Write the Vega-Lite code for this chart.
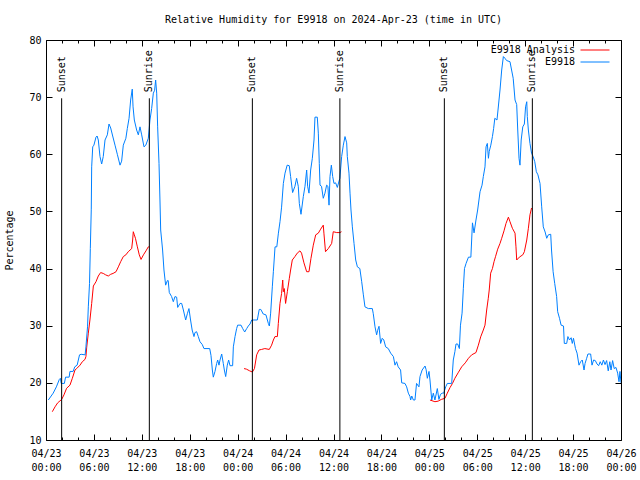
{
  "$schema": "https://vega.github.io/schema/vega-lite/v6.json",
  "width": 575,
  "height": 400,
  "autosize": {"type": "none"},
  "padding": {"left": 46, "top": 40, "right": 19, "bottom": 40},
  "background": "white",
  "title": {"text": "Relative Humidity for E9918 on 2024-Apr-23 (time in UTC)", "font": "DejaVu Sans Mono", "fontSize": 10, "fontWeight": "normal", "color": "black", "anchor": "middle", "offset": 10},
  "config": {"view": {"stroke": "black", "strokeWidth": 1}},
  "datasets": {
    "analysis": [
      {"seg":"1","hour":0.79,"rh":14.95},{"seg":"1","hour":1.13,"rh":15.8},{"seg":"1","hour":1.46,"rh":16.5},{"seg":"1","hour":1.96,"rh":17.1},{"seg":"1","hour":2.25,"rh":17.9},{"seg":"1","hour":2.58,"rh":19.05},{"seg":"1","hour":3.0,"rh":19.6},{"seg":"1","hour":3.3,"rh":20.8},{"seg":"1","hour":3.63,"rh":22.25},{"seg":"1","hour":3.84,"rh":22.5},{"seg":"1","hour":4.26,"rh":23.1},{"seg":"1","hour":4.55,"rh":23.7},{"seg":"1","hour":4.88,"rh":24.1},{"seg":"1","hour":5.0,"rh":24.6},{"seg":"1","hour":5.1,"rh":26.25},{"seg":"1","hour":5.3,"rh":28.7},{"seg":"1","hour":5.5,"rh":31.0},{"seg":"1","hour":5.72,"rh":33.9},{"seg":"1","hour":5.93,"rh":36.95},{"seg":"1","hour":6.26,"rh":37.7},{"seg":"1","hour":6.55,"rh":38.7},{"seg":"1","hour":6.84,"rh":39.3},{"seg":"1","hour":7.17,"rh":39.15},{"seg":"1","hour":7.47,"rh":38.9},{"seg":"1","hour":7.8,"rh":38.7},{"seg":"1","hour":8.1,"rh":39.0},{"seg":"1","hour":8.4,"rh":39.15},{"seg":"1","hour":8.77,"rh":39.45},{"seg":"1","hour":9.06,"rh":40.3},{"seg":"1","hour":9.35,"rh":41.2},{"seg":"1","hour":9.68,"rh":42.1},{"seg":"1","hour":10.0,"rh":42.4},{"seg":"1","hour":10.3,"rh":42.95},{"seg":"1","hour":10.73,"rh":43.5},{"seg":"1","hour":10.85,"rh":45.0},{"seg":"1","hour":10.93,"rh":46.45},{"seg":"1","hour":11.06,"rh":45.9},{"seg":"1","hour":11.2,"rh":45.3},{"seg":"1","hour":11.44,"rh":43.8},{"seg":"1","hour":11.68,"rh":42.4},{"seg":"1","hour":11.9,"rh":41.6},{"seg":"1","hour":12.2,"rh":42.4},{"seg":"1","hour":12.52,"rh":43.1},{"seg":"1","hour":12.81,"rh":43.8},{"seg":"1","hour":12.94,"rh":43.8},
      {"seg":"2","hour":24.8,"rh":22.5},{"seg":"2","hour":25.1,"rh":22.4},{"seg":"2","hour":25.5,"rh":22.1},{"seg":"2","hour":25.84,"rh":21.9},{"seg":"2","hour":26.1,"rh":22.5},{"seg":"2","hour":26.38,"rh":24.9},{"seg":"2","hour":26.67,"rh":25.75},{"seg":"2","hour":27.0,"rh":25.85},{"seg":"2","hour":27.4,"rh":26.0},{"seg":"2","hour":27.96,"rh":25.85},{"seg":"2","hour":28.25,"rh":26.6},{"seg":"2","hour":28.47,"rh":27.5},{"seg":"2","hour":28.67,"rh":28.1},{"seg":"2","hour":28.97,"rh":28.1},{"seg":"2","hour":29.09,"rh":30.4},{"seg":"2","hour":29.3,"rh":33.9},{"seg":"2","hour":29.5,"rh":35.65},{"seg":"2","hour":29.64,"rh":38.0},{"seg":"2","hour":29.72,"rh":35.95},{"seg":"2","hour":29.84,"rh":36.5},{"seg":"2","hour":30.0,"rh":33.9},{"seg":"2","hour":30.22,"rh":35.95},{"seg":"2","hour":30.47,"rh":38.3},{"seg":"2","hour":30.63,"rh":39.75},{"seg":"2","hour":30.84,"rh":41.5},{"seg":"2","hour":31.17,"rh":42.1},{"seg":"2","hour":31.46,"rh":42.7},{"seg":"2","hour":31.8,"rh":43.1},{"seg":"2","hour":32.0,"rh":42.7},{"seg":"2","hour":32.3,"rh":41.0},{"seg":"2","hour":32.64,"rh":39.45},{"seg":"2","hour":32.93,"rh":39.45},{"seg":"2","hour":33.18,"rh":41.8},{"seg":"2","hour":33.47,"rh":44.1},{"seg":"2","hour":33.77,"rh":45.9},{"seg":"2","hour":34.1,"rh":46.2},{"seg":"2","hour":34.39,"rh":46.9},{"seg":"2","hour":34.72,"rh":47.6},{"seg":"2","hour":34.8,"rh":46.2},{"seg":"2","hour":35.0,"rh":42.95},{"seg":"2","hour":35.35,"rh":43.5},{"seg":"2","hour":35.77,"rh":44.4},{"seg":"2","hour":35.97,"rh":46.45},{"seg":"2","hour":36.4,"rh":46.3},{"seg":"2","hour":36.8,"rh":46.3},{"seg":"2","hour":37.0,"rh":46.45},
      {"seg":"3","hour":48.08,"rh":17.0},{"seg":"3","hour":48.7,"rh":16.7},{"seg":"3","hour":49.1,"rh":16.8},{"seg":"3","hour":49.5,"rh":17.1},{"seg":"3","hour":49.96,"rh":17.3},{"seg":"3","hour":50.25,"rh":18.2},{"seg":"3","hour":50.6,"rh":19.2},{"seg":"3","hour":50.9,"rh":19.9},{"seg":"3","hour":51.2,"rh":20.8},{"seg":"3","hour":51.6,"rh":21.75},{"seg":"3","hour":52.05,"rh":22.8},{"seg":"3","hour":52.5,"rh":23.5},{"seg":"3","hour":52.9,"rh":24.3},{"seg":"3","hour":53.3,"rh":24.9},{"seg":"3","hour":53.84,"rh":25.3},{"seg":"3","hour":54.14,"rh":26.6},{"seg":"3","hour":54.43,"rh":28.05},{"seg":"3","hour":54.76,"rh":29.25},{"seg":"3","hour":54.97,"rh":30.1},{"seg":"3","hour":55.18,"rh":32.75},{"seg":"3","hour":55.38,"rh":34.8},{"seg":"3","hour":55.5,"rh":36.25},{"seg":"3","hour":55.68,"rh":39.2},{"seg":"3","hour":55.9,"rh":40.0},{"seg":"3","hour":56.1,"rh":41.2},{"seg":"3","hour":56.3,"rh":42.15},{"seg":"3","hour":56.56,"rh":43.4},{"seg":"3","hour":56.85,"rh":44.4},{"seg":"3","hour":57.06,"rh":45.3},{"seg":"3","hour":57.35,"rh":46.6},{"seg":"3","hour":57.6,"rh":47.9},{"seg":"3","hour":57.9,"rh":49.0},{"seg":"3","hour":58.1,"rh":48.2},{"seg":"3","hour":58.4,"rh":47.05},{"seg":"3","hour":58.73,"rh":46.2},{"seg":"3","hour":58.85,"rh":43.8},{"seg":"3","hour":58.94,"rh":41.5},{"seg":"3","hour":59.27,"rh":42.0},{"seg":"3","hour":59.7,"rh":42.4},{"seg":"3","hour":59.9,"rh":42.95},{"seg":"3","hour":60.2,"rh":45.0},{"seg":"3","hour":60.4,"rh":47.05},{"seg":"3","hour":60.6,"rh":49.4},{"seg":"3","hour":60.8,"rh":50.6}
    ],
    "obs": [
      {"hour":0.29,"rh":17.0},{"hour":0.9,"rh":18.2},{"hour":1.3,"rh":19.3},{"hour":1.67,"rh":20.6},{"hour":1.8,"rh":20.8},{"hour":1.9,"rh":19.9},{"hour":2.3,"rh":19.9},{"hour":2.45,"rh":21.0},{"hour":2.9,"rh":21.0},{"hour":3.0,"rh":22.0},{"hour":3.4,"rh":22.0},{"hour":3.6,"rh":22.8},{"hour":3.9,"rh":23.1},{"hour":4.2,"rh":24.9},{"hour":4.4,"rh":25.0},{"hour":4.9,"rh":24.9},{"hour":5.0,"rh":26.3},{"hour":5.2,"rh":29.8},{"hour":5.3,"rh":33.3},{"hour":5.45,"rh":37.4},{"hour":5.55,"rh":43.5},{"hour":5.67,"rh":50.4},{"hour":5.72,"rh":57.8},{"hour":5.85,"rh":61.3},{"hour":6.0,"rh":61.6},{"hour":6.26,"rh":63.0},{"hour":6.4,"rh":63.2},{"hour":6.55,"rh":62.5},{"hour":6.76,"rh":59.6},{"hour":6.97,"rh":58.3},{"hour":7.17,"rh":59.6},{"hour":7.39,"rh":62.5},{"hour":7.68,"rh":63.4},{"hour":7.89,"rh":65.3},{"hour":8.1,"rh":64.6},{"hour":8.35,"rh":63.2},{"hour":8.64,"rh":61.6},{"hour":8.93,"rh":60.0},{"hour":9.27,"rh":58.1},{"hour":9.47,"rh":58.8},{"hour":9.68,"rh":61.6},{"hour":10.0,"rh":62.8},{"hour":10.18,"rh":64.5},{"hour":10.4,"rh":66.3},{"hour":10.6,"rh":69.5},{"hour":10.8,"rh":71.4},{"hour":10.9,"rh":68.3},{"hour":11.06,"rh":66.0},{"hour":11.35,"rh":64.25},{"hour":11.56,"rh":63.4},{"hour":11.77,"rh":64.8},{"hour":11.98,"rh":63.4},{"hour":12.27,"rh":61.3},{"hour":12.5,"rh":61.6},{"hour":12.81,"rh":62.8},{"hour":13.02,"rh":66.0},{"hour":13.23,"rh":68.0},{"hour":13.44,"rh":70.7},{"hour":13.6,"rh":71.2},{"hour":13.73,"rh":73.0},{"hour":13.86,"rh":70.7},{"hour":13.98,"rh":64.8},{"hour":14.15,"rh":58.4},{"hour":14.27,"rh":52.0},{"hour":14.36,"rh":46.75},{"hour":14.6,"rh":43.25},{"hour":14.77,"rh":39.75},{"hour":14.98,"rh":37.1},{"hour":15.2,"rh":37.9},{"hour":15.3,"rh":37.9},{"hour":15.44,"rh":35.8},{"hour":15.73,"rh":35.1},{"hour":15.94,"rh":34.2},{"hour":16.15,"rh":35.1},{"hour":16.36,"rh":35.0},{"hour":16.49,"rh":33.2},{"hour":16.78,"rh":33.9},{"hour":16.99,"rh":33.9},{"hour":17.2,"rh":32.75},{"hour":17.49,"rh":31.0},{"hour":17.7,"rh":32.1},{"hour":17.9,"rh":33.0},{"hour":18.1,"rh":31.0},{"hour":18.3,"rh":29.25},{"hour":18.53,"rh":28.1},{"hour":18.65,"rh":28.8},{"hour":18.86,"rh":28.95},{"hour":19.07,"rh":28.1},{"hour":19.28,"rh":27.2},{"hour":19.57,"rh":26.7},{"hour":19.78,"rh":26.0},{"hour":20.5,"rh":26.0},{"hour":20.66,"rh":24.8},{"hour":20.83,"rh":22.25},{"hour":20.95,"rh":21.0},{"hour":21.16,"rh":22.0},{"hour":21.37,"rh":23.4},{"hour":21.5,"rh":24.0},{"hour":21.66,"rh":23.1},{"hour":21.79,"rh":24.0},{"hour":22.0,"rh":25.05},{"hour":22.2,"rh":23.4},{"hour":22.33,"rh":22.25},{"hour":22.5,"rh":21.1},{"hour":22.7,"rh":23.1},{"hour":22.87,"rh":24.0},{"hour":23.04,"rh":23.0},{"hour":23.37,"rh":23.0},{"hour":23.46,"rh":26.3},{"hour":23.67,"rh":28.1},{"hour":23.87,"rh":29.5},{"hour":24.0,"rh":30.1},{"hour":24.42,"rh":30.1},{"hour":24.63,"rh":29.5},{"hour":24.88,"rh":28.9},{"hour":25.13,"rh":29.5},{"hour":25.33,"rh":29.95},{"hour":25.55,"rh":30.3},{"hour":25.76,"rh":31.0},{"hour":26.46,"rh":31.0},{"hour":26.7,"rh":32.85},{"hour":26.9,"rh":32.85},{"hour":27.2,"rh":32.05},{"hour":27.54,"rh":31.9},{"hour":27.84,"rh":30.4},{"hour":27.97,"rh":29.95},{"hour":28.13,"rh":32.2},{"hour":28.34,"rh":36.8},{"hour":28.47,"rh":39.45},{"hour":28.68,"rh":43.8},{"hour":28.9,"rh":43.8},{"hour":29.1,"rh":46.2},{"hour":29.3,"rh":48.2},{"hour":29.5,"rh":50.75},{"hour":29.72,"rh":54.9},{"hour":29.93,"rh":56.7},{"hour":30.2,"rh":58.1},{"hour":30.46,"rh":58.0},{"hour":30.63,"rh":56.1},{"hour":30.88,"rh":53.3},{"hour":31.17,"rh":54.4},{"hour":31.38,"rh":55.8},{"hour":31.59,"rh":54.4},{"hour":31.72,"rh":51.4},{"hour":31.93,"rh":49.5},{"hour":32.22,"rh":52.6},{"hour":32.43,"rh":54.4},{"hour":32.64,"rh":57.25},{"hour":32.76,"rh":54.4},{"hour":32.93,"rh":53.2},{"hour":33.14,"rh":57.25},{"hour":33.35,"rh":59.3},{"hour":33.56,"rh":62.5},{"hour":33.68,"rh":66.5},{"hour":33.97,"rh":66.5},{"hour":34.1,"rh":63.7},{"hour":34.22,"rh":58.4},{"hour":34.31,"rh":54.6},{"hour":34.5,"rh":54.4},{"hour":34.72,"rh":52.3},{"hour":34.93,"rh":53.2},{"hour":35.14,"rh":54.6},{"hour":35.3,"rh":54.4},{"hour":35.44,"rh":51.1},{"hour":35.56,"rh":56.1},{"hour":35.73,"rh":58.1},{"hour":35.9,"rh":56.1},{"hour":36.06,"rh":54.9},{"hour":36.27,"rh":55.0},{"hour":36.48,"rh":54.2},{"hour":36.73,"rh":55.5},{"hour":36.8,"rh":55.8},{"hour":37.02,"rh":59.6},{"hour":37.23,"rh":61.6},{"hour":37.44,"rh":63.1},{"hour":37.65,"rh":62.0},{"hour":37.73,"rh":59.6},{"hour":37.94,"rh":56.7},{"hour":38.07,"rh":53.2},{"hour":38.19,"rh":50.25},{"hour":38.36,"rh":47.3},{"hour":38.57,"rh":44.4},{"hour":38.78,"rh":41.5},{"hour":38.99,"rh":40.3},{"hour":39.3,"rh":40.0},{"hour":39.53,"rh":37.7},{"hour":39.74,"rh":35.4},{"hour":39.94,"rh":33.3},{"hour":40.36,"rh":33.0},{"hour":40.86,"rh":33.0},{"hour":40.98,"rh":32.1},{"hour":41.2,"rh":29.8},{"hour":41.4,"rh":28.4},{"hour":41.53,"rh":29.2},{"hour":41.7,"rh":29.9},{"hour":41.9,"rh":26.9},{"hour":42.1,"rh":27.8},{"hour":42.3,"rh":27.5},{"hour":42.53,"rh":26.3},{"hour":42.86,"rh":26.0},{"hour":43.16,"rh":25.2},{"hour":43.5,"rh":24.6},{"hour":43.7,"rh":23.1},{"hour":43.9,"rh":23.7},{"hour":44.1,"rh":22.8},{"hour":44.4,"rh":22.25},{"hour":44.54,"rh":20.0},{"hour":44.95,"rh":19.9},{"hour":45.16,"rh":19.3},{"hour":45.37,"rh":18.2},{"hour":45.58,"rh":17.6},{"hour":45.66,"rh":17.0},{"hour":45.8,"rh":17.7},{"hour":46.0,"rh":17.0},{"hour":46.2,"rh":17.0},{"hour":46.4,"rh":19.9},{"hour":46.7,"rh":19.3},{"hour":46.83,"rh":21.1},{"hour":47.1,"rh":22.25},{"hour":47.46,"rh":22.95},{"hour":47.6,"rh":22.3},{"hour":47.75,"rh":20.8},{"hour":47.96,"rh":22.0},{"hour":48.08,"rh":20.5},{"hour":48.3,"rh":17.0},{"hour":48.5,"rh":18.2},{"hour":48.7,"rh":17.0},{"hour":49.0,"rh":19.0},{"hour":49.2,"rh":17.1},{"hour":49.4,"rh":18.0},{"hour":49.62,"rh":18.2},{"hour":49.8,"rh":18.2},{"hour":50.05,"rh":19.3},{"hour":50.25,"rh":19.9},{"hour":50.8,"rh":19.9},{"hour":51.0,"rh":24.0},{"hour":51.2,"rh":25.45},{"hour":51.34,"rh":26.8},{"hour":51.55,"rh":26.8},{"hour":51.76,"rh":26.0},{"hour":51.9,"rh":30.1},{"hour":52.1,"rh":32.2},{"hour":52.26,"rh":36.55},{"hour":52.4,"rh":40.0},{"hour":52.6,"rh":40.9},{"hour":52.9,"rh":42.0},{"hour":53.2,"rh":42.0},{"hour":53.4,"rh":48.0},{"hour":53.6,"rh":46.25},{"hour":53.84,"rh":48.5},{"hour":54.05,"rh":50.25},{"hour":54.35,"rh":53.45},{"hour":54.6,"rh":54.6},{"hour":54.76,"rh":56.1},{"hour":54.97,"rh":57.8},{"hour":55.1,"rh":61.3},{"hour":55.26,"rh":61.9},{"hour":55.4,"rh":59.3},{"hour":55.5,"rh":60.5},{"hour":55.7,"rh":61.6},{"hour":55.9,"rh":63.1},{"hour":56.05,"rh":64.5},{"hour":56.2,"rh":66.3},{"hour":56.47,"rh":66.0},{"hour":56.6,"rh":67.75},{"hour":56.85,"rh":71.25},{"hour":57.06,"rh":74.75},{"hour":57.27,"rh":77.1},{"hour":57.47,"rh":76.8},{"hour":57.68,"rh":76.4},{"hour":58.1,"rh":76.2},{"hour":58.3,"rh":74.75},{"hour":58.5,"rh":73.3},{"hour":58.73,"rh":69.5},{"hour":58.94,"rh":68.7},{"hour":59.07,"rh":64.25},{"hour":59.23,"rh":59.3},{"hour":59.35,"rh":58.1},{"hour":59.5,"rh":62.5},{"hour":59.7,"rh":64.8},{"hour":59.9,"rh":65.3},{"hour":60.05,"rh":68.3},{"hour":60.2,"rh":69.2},{"hour":60.27,"rh":66.6},{"hour":60.4,"rh":64.25},{"hour":60.6,"rh":61.9},{"hour":60.8,"rh":60.2},{"hour":61.0,"rh":59.6},{"hour":61.2,"rh":58.7},{"hour":61.4,"rh":56.95},{"hour":61.6,"rh":56.4},{"hour":61.86,"rh":54.9},{"hour":62.07,"rh":50.8},{"hour":62.27,"rh":47.3},{"hour":62.5,"rh":46.4},{"hour":62.7,"rh":45.3},{"hour":62.9,"rh":45.9},{"hour":63.2,"rh":46.0},{"hour":63.3,"rh":43.25},{"hour":63.5,"rh":39.45},{"hour":63.7,"rh":37.4},{"hour":63.94,"rh":35.1},{"hour":64.07,"rh":32.45},{"hour":64.3,"rh":31.3},{"hour":64.5,"rh":30.1},{"hour":64.8,"rh":29.95},{"hour":64.9,"rh":26.9},{"hour":65.2,"rh":26.9},{"hour":65.35,"rh":28.1},{"hour":65.55,"rh":27.5},{"hour":65.76,"rh":27.9},{"hour":65.9,"rh":26.9},{"hour":66.05,"rh":27.8},{"hour":66.3,"rh":26.0},{"hour":66.5,"rh":25.2},{"hour":66.74,"rh":23.1},{"hour":66.95,"rh":23.7},{"hour":67.15,"rh":24.0},{"hour":67.37,"rh":22.25},{"hour":67.5,"rh":23.4},{"hour":67.7,"rh":24.3},{"hour":67.86,"rh":25.05},{"hour":68.2,"rh":25.05},{"hour":68.37,"rh":23.1},{"hour":68.57,"rh":24.0},{"hour":68.78,"rh":23.9},{"hour":69.0,"rh":23.3},{"hour":69.2,"rh":23.0},{"hour":69.4,"rh":23.7},{"hour":69.6,"rh":23.1},{"hour":69.8,"rh":24.0},{"hour":70.0,"rh":23.2},{"hour":70.2,"rh":23.9},{"hour":70.4,"rh":22.1},{"hour":70.6,"rh":23.7},{"hour":70.75,"rh":22.25},{"hour":70.95,"rh":23.9},{"hour":71.15,"rh":22.5},{"hour":71.37,"rh":22.7},{"hour":71.58,"rh":21.7},{"hour":71.75,"rh":20.2},{"hour":71.87,"rh":22.0},{"hour":72.0,"rh":20.0}
    ],
    "sun": [
      {"hour":1.96,"event":"Sunset"},{"hour":12.94,"event":"Sunrise"},{"hour":25.84,"event":"Sunset"},{"hour":36.8,"event":"Sunrise"},{"hour":49.88,"event":"Sunset"},{"hour":60.9,"event":"Sunrise"}
    ]
  },
  "resolve": {"axis": {"x": "independent", "y": "independent"}},
  "layer": [
    {
      "data": {"name": "analysis"},
      "mark": {"type": "line", "strokeWidth": 1, "clip": true},
      "encoding": {
        "x": {"field": "hour", "type": "quantitative", "scale": {"domain": [0, 72], "nice": false, "zero": false},
          "axis": {"orient": "bottom", "title": null, "domain": false, "grid": false,
            "values": [0,2,4,6,8,10,12,14,16,18,20,22,24,26,28,30,32,34,36,38,40,42,44,46,48,50,52,54,56,58,60,62,64,66,68,70,72],
            "tickSize": {"condition": {"test": "datum.value % 6 === 0", "value": -6}, "value": -3},
            "tickColor": "black", "tickWidth": 1,
            "labelExpr": "datum.value % 6 === 0 ? ['04/' + (23 + floor(datum.value / 24)), (datum.value % 24 < 10 ? '0' : '') + (datum.value % 24) + ':00'] : ''",
            "labelFont": "DejaVu Sans Mono", "labelFontSize": 10, "labelColor": "black", "labelLineHeight": 14,
            "labelPadding": 14, "labelFlush": false, "labelOverlap": false, "labelBound": false}},
        "y": {"field": "rh", "type": "quantitative", "scale": {"domain": [10, 80], "nice": false, "zero": false},
          "axis": {"orient": "left", "title": "Percentage", "titleFont": "DejaVu Sans Mono", "titleFontSize": 10, "titleFontWeight": "normal", "titleColor": "black", "titlePadding": 14,
            "domain": false, "grid": false, "values": [10,20,30,40,50,60,70,80],
            "tickSize": -6, "tickColor": "black", "labelFont": "DejaVu Sans Mono", "labelFontSize": 10, "labelColor": "black", "labelPadding": 11}},
        "detail": {"field": "seg"},
        "color": {"datum": "E9918 Analysis",
          "scale": {"domain": ["E9918 Analysis", "E9918"], "range": ["#ff0000", "#0080ff"]},
          "legend": {"title": null, "orient": "none", "legendX": 534, "legendY": 5, "padding": 0,
            "symbolType": "stroke", "symbolSize": 841, "symbolStrokeWidth": 1,
            "labelAlign": "right", "labelOffset": -35, "labelFont": "DejaVu Sans Mono", "labelFontSize": 10, "labelColor": "black", "rowPadding": 2, "labelLimit": 300,
            "encode": {"symbols": {"update": {"y": {"value": 5}}}, "labels": {"update": {"y": {"value": 5}}}}}}
      }
    },
    {
      "data": {"name": "obs"},
      "mark": {"type": "line", "strokeWidth": 1, "clip": true},
      "encoding": {
        "x": {"field": "hour", "type": "quantitative",
          "axis": {"orient": "top", "title": null, "domain": false, "grid": false, "labels": false,
            "values": [0,2,4,6,8,10,12,14,16,18,20,22,24,26,28,30,32,34,36,38,40,42,44,46,48,50,52,54,56,58,60,62,64,66,68,70,72],
            "tickSize": {"condition": {"test": "datum.value % 6 === 0", "value": -6}, "value": -3},
            "tickColor": "black", "tickWidth": 1}},
        "y": {"field": "rh", "type": "quantitative",
          "axis": {"orient": "right", "title": null, "domain": false, "grid": false, "labels": false,
            "values": [10,20,30,40,50,60,70,80], "tickSize": -6, "tickColor": "black"}},
        "color": {"datum": "E9918"}
      }
    },
    {
      "data": {"name": "sun"},
      "mark": {"type": "rule", "color": "black", "strokeWidth": 1},
      "encoding": {
        "x": {"field": "hour", "type": "quantitative", "axis": null},
        "y": {"datum": 69.8, "type": "quantitative", "axis": null},
        "y2": {"datum": 10}
      }
    },
    {
      "data": {"name": "sun"},
      "mark": {"type": "text", "angle": 270, "align": "left", "baseline": "middle", "font": "DejaVu Sans Mono", "fontSize": 10, "color": "black"},
      "encoding": {
        "x": {"field": "hour", "type": "quantitative", "axis": null},
        "y": {"datum": 70.85, "type": "quantitative", "axis": null},
        "text": {"field": "event"}
      }
    }
  ]
}
